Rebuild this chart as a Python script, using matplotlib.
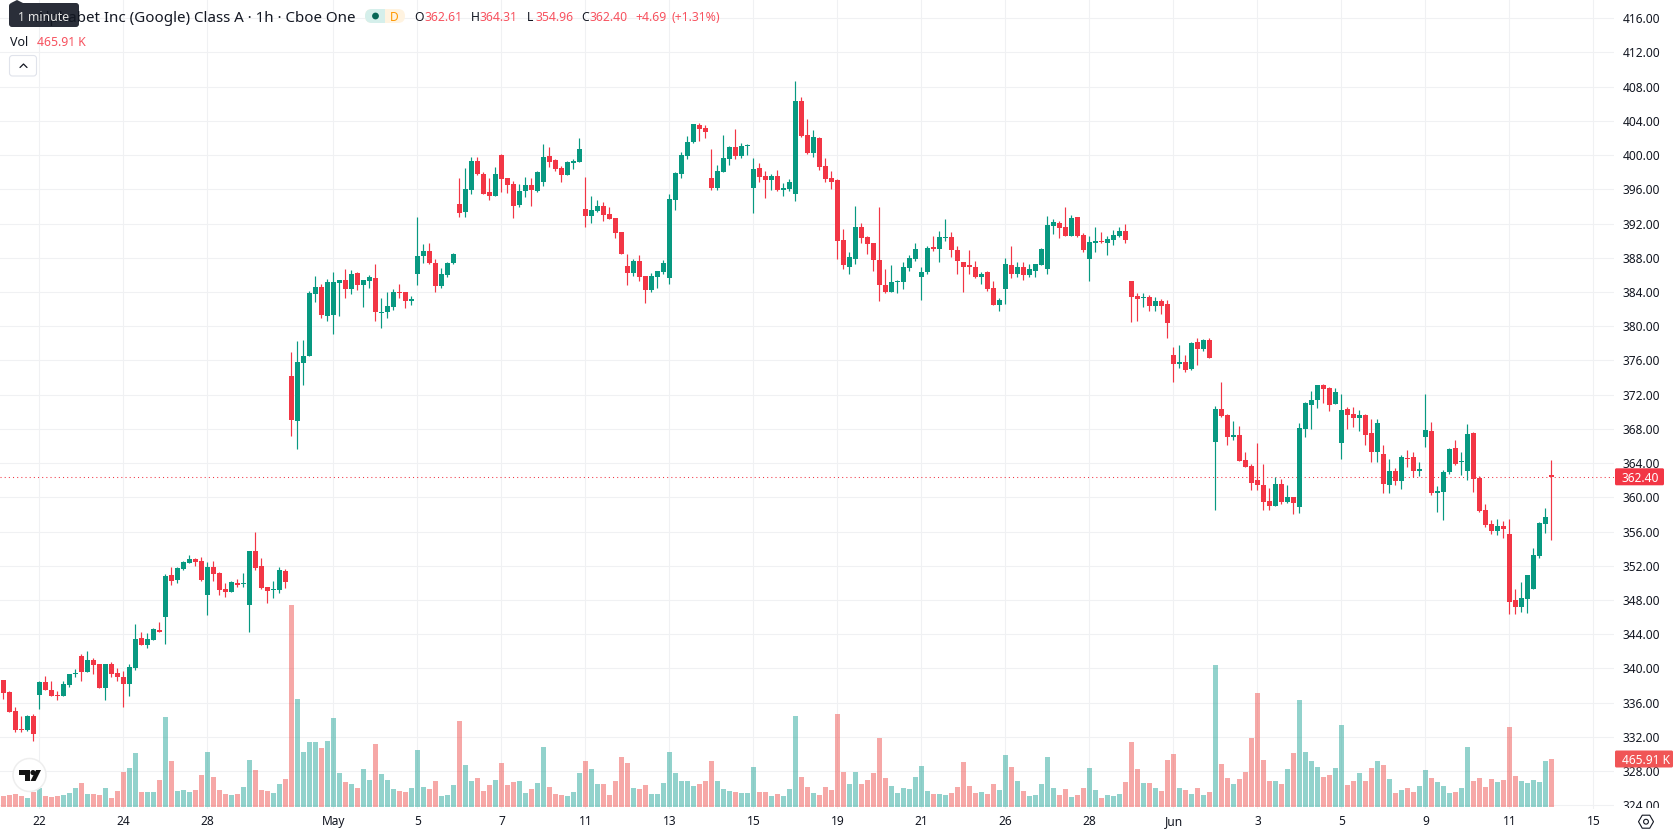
import numpy as np
import matplotlib
matplotlib.use("Agg")
import matplotlib.pyplot as plt
from matplotlib.patches import Rectangle, FancyBboxPatch, Circle, RegularPolygon, Polygon

plt.rcParams["font.family"] = ["Noto Sans", "DejaVu Sans"]

# Hourly OHLC prices (USD)
opens = [
    338.62,337.21,334.98,332.83,332.76,334.40,336.86,338.38,337.44,336.86,
    336.74,338.03,339.36,341.43,339.55,340.96,340.49,337.68,340.49,339.44,
    338.97,338.15,340.02,343.54,342.72,343.30,344.48,346.00,350.92,350.33,
    351.62,352.33,352.80,352.56,348.58,351.86,351.15,349.28,348.93,349.98,
    349.87,347.41,353.73,351.98,349.51,349.16,349.16,351.39,374.14,368.87,
    375.66,376.48,383.75,384.57,381.17,381.29,385.04,385.39,384.34,386.21,
    384.80,385.27,385.62,381.52,381.64,382.23,383.98,383.98,382.93,386.09,
    388.20,388.79,387.38,384.69,385.98,387.38,394.30,393.36,395.94,399.33,
    397.81,395.70,395.23,400.04,397.34,396.64,394.18,395.82,396.52,395.82,
    396.87,399.92,399.45,398.51,397.69,399.10,399.22,393.71,392.89,393.48,
    394.06,393.12,392.66,391.01,387.03,386.21,387.62,385.86,384.22,385.74,
    386.33,385.62,394.76,397.81,399.92,401.51,403.50,403.15,397.29,396.12,
    397.99,399.52,400.93,399.87,401.04,396.12,398.47,397.53,397.06,397.53,
    395.89,396.00,395.42,406.32,402.33,400.22,401.98,398.70,397.29,397.06,
    390.03,386.98,387.80,391.55,390.38,389.68,387.69,384.76,384.05,385.11,
    385.11,386.75,387.80,385.81,386.28,389.21,388.97,390.26,390.38,388.86,
    387.45,387.10,386.98,385.81,386.28,384.52,382.53,384.40,387.10,386.05,
    386.98,385.93,386.51,387.10,386.63,391.67,392.02,391.55,390.50,392.72,
    390.62,387.80,389.68,389.91,389.68,390.05,390.52,391.10,385.25,383.49,
    383.26,383.37,382.32,382.91,382.55,376.69,375.64,375.87,375.05,378.10,
    377.28,378.34,366.50,370.37,369.66,367.09,367.32,364.39,363.69,362.05,
    361.46,359.59,359.00,361.58,359.47,360.05,358.88,368.02,370.84,371.42,
    373.18,372.83,370.95,366.38,370.37,369.78,369.31,369.66,367.55,365.33,
    365.09,361.46,363.10,361.93,364.63,364.74,363.10,367.09,367.79,360.52,
    360.64,362.99,365.80,364.16,363.10,367.55,362.28,358.53,356.89,356.07,
    356.66,355.72,347.99,347.17,348.10,349.27,353.14,356.89,362.61,
]
highs = [
    338.62,337.33,335.45,334.40,334.52,334.63,338.50,339.09,338.50,337.33,
    338.50,339.32,339.91,341.66,342.01,341.19,340.49,340.49,340.73,340.02,
    339.67,340.49,345.18,344.24,344.13,344.71,345.41,351.04,351.86,351.86,
    352.56,353.27,352.91,353.03,352.44,352.56,351.27,349.98,350.22,350.45,
    351.15,353.73,355.96,352.91,349.51,350.22,351.86,351.62,376.95,378.24,
    378.36,384.10,385.86,384.92,385.51,386.33,385.39,386.68,386.56,386.33,
    385.39,385.98,387.27,383.28,383.98,384.34,384.92,383.98,383.52,392.77,
    389.61,389.73,387.85,386.80,387.50,388.55,397.34,398.51,399.80,399.80,
    398.05,397.34,398.63,400.15,397.34,396.99,396.64,397.46,397.34,398.16,
    401.33,400.98,399.57,398.75,399.33,399.57,402.03,397.46,395.23,394.76,
    394.53,393.94,392.66,391.01,388.44,387.85,388.32,385.86,386.21,386.44,
    387.73,395.47,398.05,400.39,402.26,403.62,403.74,403.50,400.69,398.82,
    402.33,401.04,403.04,401.40,401.28,399.64,399.05,398.11,397.76,398.23,
    396.71,397.18,408.66,406.79,404.21,402.92,402.10,399.64,398.11,397.18,
    391.32,388.62,394.00,392.02,390.50,389.68,393.90,386.63,387.10,385.46,
    387.45,388.27,389.68,386.87,389.33,390.50,391.08,392.49,390.97,389.33,
    387.45,388.86,387.57,386.28,386.51,385.23,383.35,387.92,389.33,387.45,
    387.45,387.33,387.33,389.09,392.84,392.49,392.26,393.90,392.96,392.72,
    390.85,390.50,391.55,390.97,390.50,391.22,391.57,391.92,385.25,383.84,
    383.84,383.61,383.37,383.14,383.02,377.52,377.75,376.58,378.10,378.57,
    378.45,378.57,370.72,373.53,369.78,368.96,368.37,365.33,363.92,366.38,
    363.92,361.11,362.40,362.16,361.46,360.05,368.73,371.19,372.48,373.18,
    373.30,372.95,372.83,372.12,370.60,370.60,370.25,369.78,369.20,369.20,
    366.15,364.51,363.45,364.98,365.56,365.33,364.16,372.12,368.84,361.34,
    363.22,365.80,366.73,365.33,368.61,367.67,362.52,359.24,357.36,357.48,
    357.24,357.48,349.27,350.09,350.91,354.08,357.13,358.77,364.31,
]
lows = [
    336.39,334.87,332.52,332.52,332.64,331.47,335.22,337.44,336.74,336.27,
    336.74,337.80,338.97,338.50,339.55,339.32,337.68,336.27,338.97,338.50,
    335.45,336.74,339.79,342.72,342.37,343.30,344.24,342.84,349.75,349.98,
    351.51,352.33,351.98,350.22,346.23,350.22,348.58,348.34,348.93,349.51,
    349.51,344.24,351.51,349.28,347.64,348.22,348.81,349.40,367.11,365.70,
    373.09,376.48,382.81,380.94,380.59,379.06,381.17,383.28,383.75,384.22,
    382.23,384.45,380.59,379.77,380.94,381.87,383.28,382.11,382.46,384.80,
    387.38,387.27,383.98,384.45,385.74,387.27,392.77,392.77,395.47,397.69,
    395.47,394.76,395.23,395.70,395.58,392.66,393.94,395.12,394.06,395.70,
    396.40,398.63,398.16,396.87,397.69,398.40,399.22,391.60,392.07,393.36,
    392.30,392.54,390.31,388.44,384.80,385.86,385.27,382.69,383.98,384.45,
    386.09,384.92,393.59,397.34,399.57,401.40,401.63,401.98,395.89,395.89,
    397.99,398.82,399.52,399.64,399.99,393.19,396.83,394.95,395.89,395.77,
    395.19,395.77,394.60,402.10,400.11,399.76,398.23,396.83,396.00,387.80,
    386.63,386.16,387.22,389.68,388.39,386.51,383.00,383.94,384.05,383.94,
    384.40,386.51,387.57,383.12,386.16,388.74,387.45,389.91,388.04,386.16,
    384.05,386.16,385.58,384.99,384.17,382.53,381.83,382.65,385.58,385.81,
    385.46,385.81,385.81,387.10,386.05,390.73,390.26,390.50,390.50,390.38,
    388.62,385.23,388.62,389.68,388.27,389.46,390.40,389.70,380.44,380.56,
    382.20,381.73,381.73,381.38,378.57,373.53,375.17,374.70,374.94,375.52,
    377.05,376.23,358.53,369.43,366.15,366.73,364.27,363.57,360.88,360.88,
    358.53,358.53,359.00,359.24,359.35,358.06,358.18,367.09,368.02,370.48,
    371.07,370.13,370.95,364.51,368.02,368.26,367.79,366.15,364.16,364.16,
    360.52,360.52,361.46,360.99,363.57,362.40,362.52,365.91,360.29,358.30,
    357.36,362.75,363.81,362.63,362.05,360.64,358.30,356.54,355.72,355.60,
    355.25,346.35,346.35,346.58,346.46,349.27,352.91,355.84,354.96,
]
closes = [
    337.13,334.87,332.76,332.76,334.40,332.29,338.38,337.44,336.74,336.74,
    338.15,339.32,339.48,339.55,340.96,340.37,337.68,340.49,339.32,338.97,
    338.15,340.14,343.42,342.72,343.42,344.59,344.24,350.80,350.22,351.74,
    352.44,352.80,352.44,350.33,351.86,351.04,349.16,348.93,350.10,349.75,
    349.98,353.73,351.74,349.40,349.05,349.28,351.51,350.10,368.98,375.78,
    376.48,383.87,384.57,381.29,385.16,385.16,385.39,384.34,386.09,384.80,
    385.39,385.74,381.64,381.64,382.34,383.98,383.90,382.93,383.16,388.20,
    388.79,387.38,384.69,386.09,387.38,388.44,393.24,396.05,399.33,397.81,
    395.47,395.23,397.81,397.23,396.52,394.06,395.82,396.52,395.94,398.05,
    399.80,399.22,398.40,397.69,399.22,399.33,400.74,392.89,393.59,394.06,
    393.01,392.54,390.90,388.44,386.21,387.62,385.74,384.22,385.86,386.44,
    387.38,394.88,397.93,400.04,401.56,403.62,403.04,402.68,396.12,398.11,
    399.64,400.93,399.87,401.04,401.16,398.35,397.41,397.06,397.53,395.89,
    396.12,396.83,406.32,402.22,400.22,402.10,398.58,397.18,396.83,389.91,
    387.10,388.04,391.55,390.26,389.56,387.69,384.76,384.05,385.11,385.23,
    386.98,387.92,388.97,386.28,389.09,388.97,390.38,390.38,388.86,387.57,
    386.87,386.98,385.81,386.05,384.40,382.53,383.12,387.22,386.05,386.98,
    385.93,386.63,387.22,388.97,391.79,392.14,391.44,390.50,392.61,390.50,
    388.86,389.79,389.91,389.79,390.15,390.63,391.10,390.05,383.37,383.14,
    383.37,382.32,382.91,382.32,380.33,375.64,375.76,374.94,377.98,377.28,
    378.34,376.34,370.37,369.55,367.09,367.32,364.27,363.57,361.70,361.46,
    359.47,359.00,361.58,359.47,360.05,359.35,368.14,371.07,371.42,373.18,
    372.71,370.84,372.36,370.25,369.66,369.31,369.66,367.32,365.33,368.73,
    361.58,363.10,361.93,364.74,364.51,363.10,363.34,367.91,360.52,360.76,
    362.99,365.68,363.92,364.27,367.44,362.16,358.41,356.77,356.07,356.66,
    356.31,347.75,347.17,348.22,350.91,353.26,357.01,357.71,362.40,
]
# Hourly volume, thousands of shares
volumes = [
    106.8,116.5,126.2,106.8,87.4,145.6,184.4,106.8,97.1,106.8,
    116.5,135.9,184.4,232.9,126.2,126.2,116.5,184.4,87.4,155.3,
    339.7,378.5,524.1,145.6,145.6,145.6,262.1,873.5,446.5,155.3,
    165.0,145.6,165.0,310.6,533.8,291.2,165.0,126.2,116.5,126.2,
    194.1,456.2,359.1,165.0,155.3,135.9,223.2,271.8,1960.6,1048.2,
    533.8,630.9,630.9,572.7,640.6,863.8,330.0,242.7,223.2,184.4,
    368.8,262.1,611.5,320.3,262.1,174.7,155.3,145.6,184.4,553.2,
    194.1,174.7,252.4,106.8,116.5,213.5,834.7,407.7,252.4,281.5,
    155.3,213.5,262.1,427.1,213.5,242.7,252.4,135.9,174.7,232.9,
    582.4,194.1,126.2,116.5,106.8,145.6,330.0,446.5,368.8,223.2,
    223.2,116.5,252.4,485.3,427.1,184.4,174.7,213.5,126.2,126.2,
    232.9,533.8,330.0,252.4,252.4,203.8,223.2,252.4,446.5,252.4,
    174.7,155.3,145.6,135.9,135.9,388.2,145.6,145.6,106.8,126.2,
    106.8,174.7,883.2,291.2,194.1,135.9,116.5,194.1,165.0,902.7,
    339.7,223.2,339.7,223.2,262.1,330.0,669.7,281.5,203.8,135.9,
    184.4,174.7,291.2,398.0,155.3,126.2,126.2,116.5,135.9,194.1,
    436.8,203.8,135.9,145.6,126.2,223.2,165.0,504.7,388.2,252.4,
    155.3,106.8,116.5,223.2,485.3,184.4,116.5,174.7,97.1,116.5,
    184.4,378.5,165.0,87.4,116.5,106.8,126.2,242.7,630.9,368.8,
    232.9,232.9,184.4,155.3,456.2,514.4,184.4,165.0,126.2,184.4,
    116.5,145.6,1378.3,417.4,281.5,223.2,271.8,339.7,669.7,1106.5,
    456.2,252.4,252.4,223.2,368.8,524.1,1038.5,533.8,446.5,388.2,
    291.2,310.6,378.5,795.9,213.5,252.4,330.0,252.4,378.5,446.5,
    407.7,271.8,135.9,165.0,184.4,145.6,203.8,359.1,281.5,242.7,
    203.8,135.9,145.6,184.4,582.4,252.4,281.5,194.1,271.8,242.7,
    262.1,776.5,300.9,252.4,232.9,262.1,242.7,446.5,465.91,
]
tick_bars = [6, 20, 34, 55, 69, 83, 97, 111, 125, 139, 153, 167, 181, 195, 209, 223, 237, 251, 265]
tick_labels = ["22", "24", "28", "May", "5", "7", "11", "13", "15", "19", "21", "26",
               "28", "Jun", "3", "5", "9", "11", "15"]
bold_labels = {"May", "Jun"}
price_ticks = list(range(324, 420, 4))

UP, DOWN = "#089981", "#F23645"
VOL_UP, VOL_DOWN = "#26A69A", "#EF5350"
INK = "#131722"
GRID = "#F0F1F3"

W, H = 1678, 835
fig = plt.figure(figsize=(W / 100, H / 100), dpi=100, facecolor="white")

PLOT_RIGHT, PLOT_BOTTOM = 1614, 809
rect = [0, (H - PLOT_BOTTOM) / H, PLOT_RIGHT / W, PLOT_BOTTOM / H]

o, h, l, c = map(np.array, (opens, highs, lows, closes))
v = np.array(volumes)
x = np.arange(len(o))
rising = c >= o

# Price pane: grid, candles and the last-price line
ax = fig.add_axes(rect, zorder=0)
ax.set_xlim(-0.5833, 268.417)
ax.set_ylim(323.57, 418.13)
for s in ax.spines.values():
    s.set_visible(False)
ax.set_xticks(tick_bars, tick_labels)
ax.set_yticks(price_ticks, [f"{p:.2f}" for p in price_ticks])
ax.grid(True, color=GRID, lw=0.75, zorder=0)
ax.set_axisbelow(True)

colors = np.where(rising, UP, DOWN)
ax.axhline(closes[-1], color=DOWN, lw=0.75, ls=(0, (1, 3)), zorder=1)
ax.vlines(x, l, h, colors=colors, lw=0.85, zorder=2)
ax.bar(x, np.maximum(np.abs(c - o), 0.12), bottom=np.minimum(o, c), width=5 / 6,
       color=colors, linewidth=0, zorder=3)

# Volume pane, sharing the bar axis
vax = ax.twinx()
vax.set_zorder(1)
vax.patch.set_visible(False)
vax.set_ylim(-19.4, 7833)
vax.yaxis.set_visible(False)
for s in vax.spines.values():
    s.set_visible(False)
vol_colors = [(VOL_UP if r else VOL_DOWN) for r in rising]
vax.bar(x, v, width=5 / 6, color=vol_colors, alpha=0.5, linewidth=0)

# twinx moves the price ticks to the left, so put the scale back on the right
ax.yaxis.tick_right()
ax.tick_params(axis="x", length=0, pad=4.5, labelsize=8.6, labelcolor=INK)
ax.tick_params(axis="y", length=0, pad=6.2, labelsize=8.6, labelcolor=INK)
for lab in ax.get_xticklabels():
    if lab.get_text() in bold_labels:
        lab.set_fontweight("bold")

# Overlay in screen pixels for the header, badges and logo
ui = fig.add_axes([0, 0, 1, 1], zorder=5)
ui.set_xlim(0, W)
ui.set_ylim(H, 0)
ui.axis("off")

# Price tick labels stop at the bottom edge of the pane
ui.add_patch(Rectangle((PLOT_RIGHT, 808), W - PLOT_RIGHT, 27, fc="white", ec="none"))


def label(xp, yp, s, color=INK, size=9.0, ha="left", **kw):
    return ui.text(xp, yp, s, color=color, fontsize=size, ha=ha, va="center_baseline", **kw)


def screen_y(axes, value):
    return ui.transData.inverted().transform(axes.transData.transform((0, value)))[1]


# Header
label(356, 16, "Alphabet Inc (Google) Class A · 1h · Cboe One", size=10.9, ha="right")
ui.add_patch(FancyBboxPatch((365, 9), 40, 14, boxstyle="round,pad=0,rounding_size=7",
                            fc="#FFF3E0", ec="none"))
ui.add_patch(FancyBboxPatch((365, 9), 27, 14, boxstyle="round,pad=0,rounding_size=7",
                            fc="#D5EFEB", ec="none"))
ui.add_patch(Rectangle((385, 9), 10, 14, fc="#FFF3E0", ec="none"))
ui.add_patch(Circle((375.5, 16), 3.4, fc="#056656", ec="none"))
label(394, 16, "D", color="#FF9800", size=8.6, ha="center", fontweight="bold")

RED_TXT = "#F7525F"
label(414.5, 16, "O", size=8.8)
label(424.5, 16, f"{opens[-1]:.2f}", color=RED_TXT, size=8.8)
label(471, 16, "H", size=8.8)
label(480, 16, f"{highs[-1]:.2f}", color=RED_TXT, size=8.8)
label(527, 16, "L", size=8.8)
label(535, 16, f"{lows[-1]:.2f}", color=RED_TXT, size=8.8)
label(581, 16, "C", size=8.8)
label(589, 16, f"{closes[-1]:.2f}", color=RED_TXT, size=8.8)
label(635, 16, "+4.69", color=RED_TXT, size=8.8)
label(671, 16, "(+1.31%)", color=RED_TXT, size=8.8)

label(9.5, 40.5, "Vol", size=9.0)
label(37, 40.5, f"{volumes[-1]:.2f} K", color=RED_TXT, size=8.8)

# Collapse button
ui.add_patch(FancyBboxPatch((9.5, 55.5), 27, 20.5, boxstyle="round,pad=0,rounding_size=3",
                            fc="white", ec="#E0E3EB", lw=0.8))
ui.plot([20, 23.5, 27], [67.5, 64, 67.5], color=INK, lw=0.9, solid_capstyle="round")

# Tooltip over the header
ui.add_patch(FancyBboxPatch((9, 3), 70, 24, boxstyle="round,pad=0,rounding_size=3",
                            fc="#2A2E39", ec="none"))
ui.add_patch(Polygon([(11, 3), (17, 0), (23, 3)], fc="#2A2E39", ec="none"))
label(43.5, 16, "1 minute", color="#E6E6E6", size=8.8, ha="center")

# Last-price and last-volume badges on the price scale
py = screen_y(ax, closes[-1])
ui.add_patch(FancyBboxPatch((1615, py - 8.5), 49, 17, boxstyle="round,pad=0,rounding_size=1.5",
                            fc=DOWN, ec="none"))
label(1622, py, f"{closes[-1]:.2f}", color="white", size=8.6)
vy = screen_y(vax, volumes[-1])
ui.add_patch(FancyBboxPatch((1615, vy - 8.5), 58, 17, boxstyle="round,pad=0,rounding_size=1.5",
                            fc="#F05556", ec="none"))
label(1622, vy, f"{volumes[-1]:.2f} K", color="white", size=8.6)

# Settings icon
ui.add_patch(RegularPolygon((1646, 821.7), 6, radius=7.5, orientation=np.pi / 2,
                            fc="none", ec=INK, lw=0.8))
ui.add_patch(Circle((1646, 821.7), 2.4, fc="none", ec=INK, lw=0.8))

# Logo badge
ui.add_patch(Circle((29.5, 775), 16.5, fc="white", ec="#EEEEEE", lw=1.1))
ui.add_patch(Polygon([(19, 770), (30, 770), (30, 781), (24.5, 781), (24.5, 775), (19, 775)],
                     fc="#131313", ec="none"))
ui.add_patch(Circle((33, 772.6), 2.6, fc="#131313", ec="none"))
ui.add_patch(Polygon([(36, 770), (41, 770), (35.5, 781), (30.5, 781)], fc="#131313", ec="none"))

fig.savefig("out.png", dpi=100, facecolor="white")
